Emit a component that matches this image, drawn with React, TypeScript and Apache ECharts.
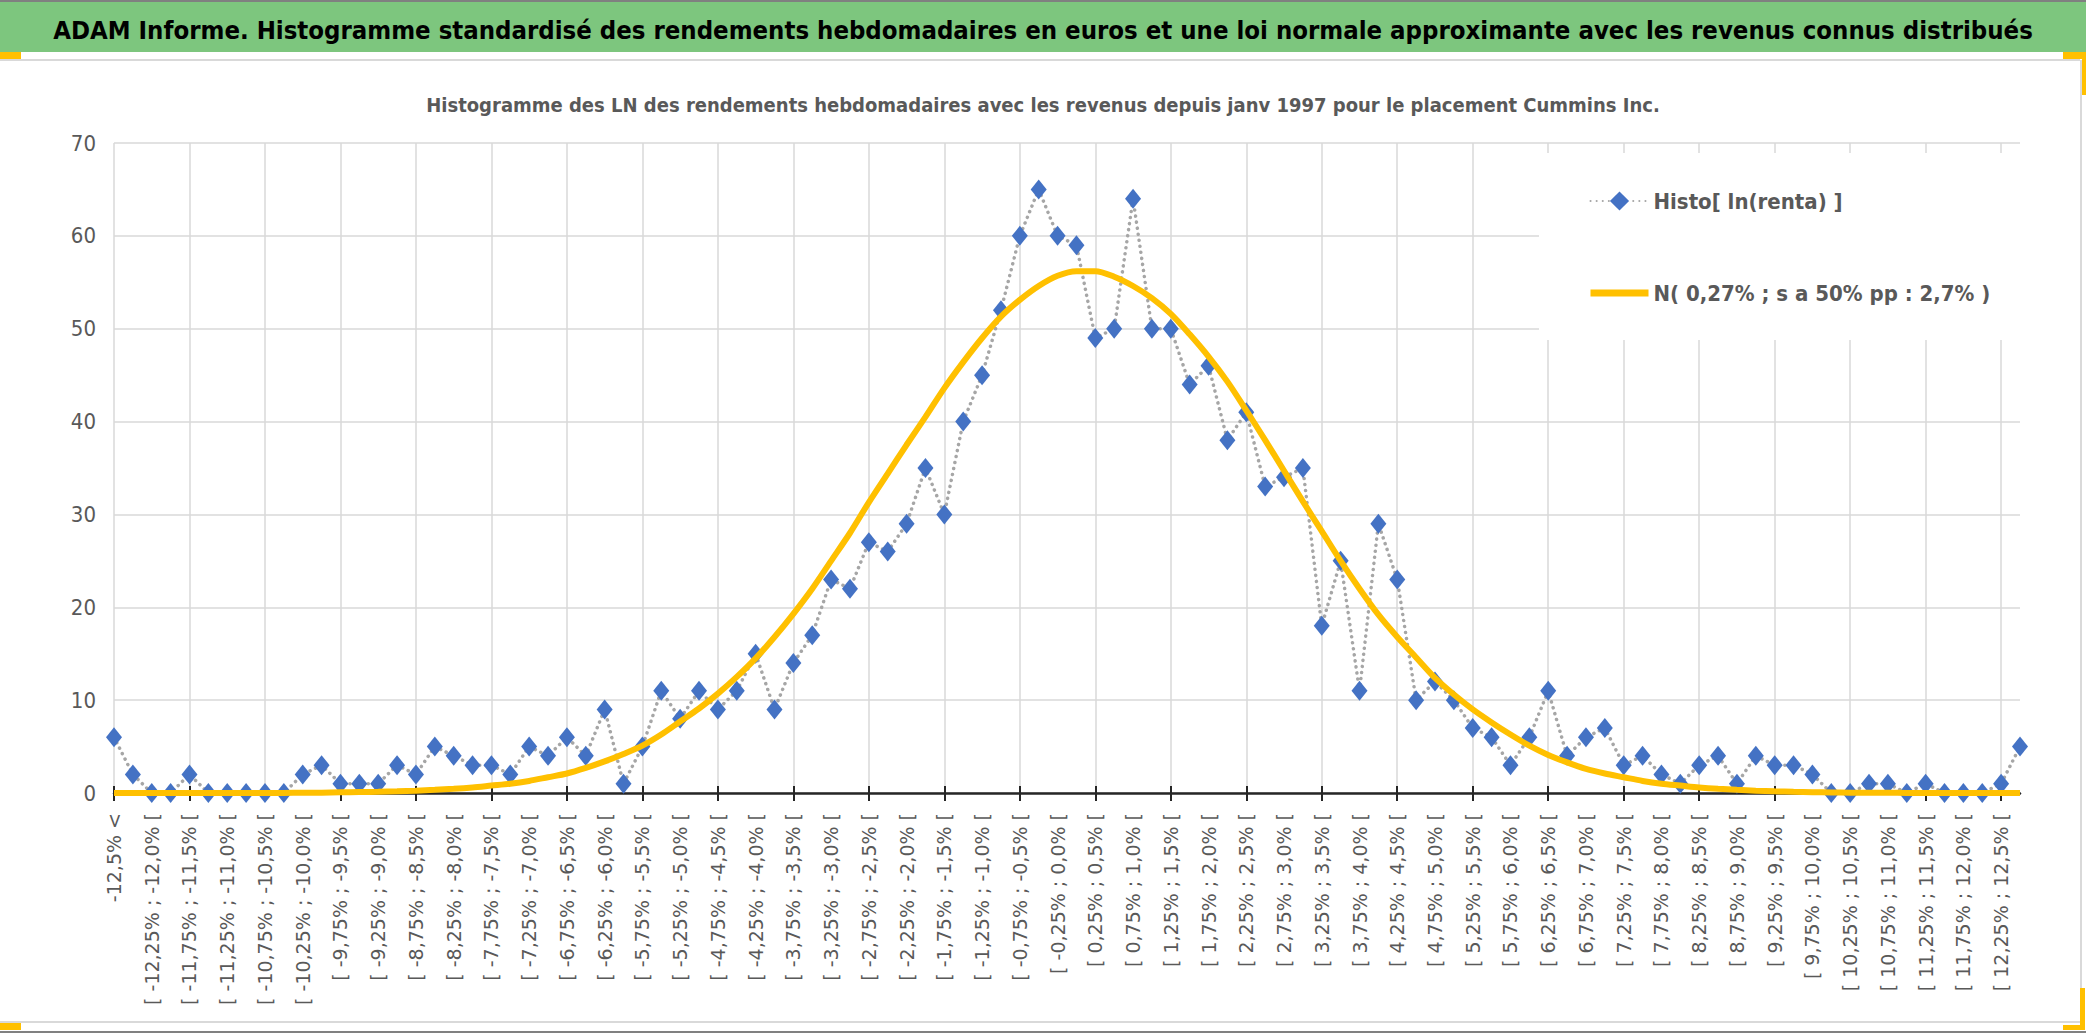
import React, { useRef, useEffect } from 'react';
import * as echarts from 'echarts';

const HEADER = 'ADAM Informe. Histogramme standardisé des rendements hebdomadaires en euros et une loi normale approximante avec les revenus connus distribués';
const SUBTITLE = 'Histogramme des LN des rendements hebdomadaires avec les revenus depuis janv 1997 pour le placement Cummins Inc.';

const HISTO_NAME = 'Histo[ ln(renta) ]';
const NORMAL_NAME = 'N( 0,27% ; s a 50% pp : 2,7% )';

// class bounds (in %), step 0.25
const BOUNDS = [
  '-12,5', '-12,25', '-12,0', '-11,75', '-11,5', '-11,25', '-11,0', '-10,75', '-10,5', '-10,25',
  '-10,0', '-9,75', '-9,5', '-9,25', '-9,0', '-8,75', '-8,5', '-8,25', '-8,0', '-7,75',
  '-7,5', '-7,25', '-7,0', '-6,75', '-6,5', '-6,25', '-6,0', '-5,75', '-5,5', '-5,25',
  '-5,0', '-4,75', '-4,5', '-4,25', '-4,0', '-3,75', '-3,5', '-3,25', '-3,0', '-2,75',
  '-2,5', '-2,25', '-2,0', '-1,75', '-1,5', '-1,25', '-1,0', '-0,75', '-0,5', '-0,25',
  '0,0', '0,25', '0,5', '0,75', '1,0', '1,25', '1,5', '1,75', '2,0', '2,25',
  '2,5', '2,75', '3,0', '3,25', '3,5', '3,75', '4,0', '4,25', '4,5', '4,75',
  '5,0', '5,25', '5,5', '5,75', '6,0', '6,25', '6,5', '6,75', '7,0', '7,25',
  '7,5', '7,75', '8,0', '8,25', '8,5', '8,75', '9,0', '9,25', '9,5', '9,75',
  '10,0', '10,25', '10,5', '10,75', '11,0', '11,25', '11,5', '11,75', '12,0', '12,25',
  '12,5',
];
const FIRST_CLASS = '-12,5% <';
const LAST_CLASS = '12,5% <=';

// weekly counts per class
const HISTO = [
  6, 2, 0, 0, 2, 0, 0, 0, 0, 0,
  2, 3, 1, 1, 1, 3, 2, 5, 4, 3,
  3, 2, 5, 4, 6, 4, 9, 1, 5, 11,
  8, 11, 9, 11, 15, 9, 14, 17, 23, 22,
  27, 26, 29, 35, 30, 40, 45, 52, 60, 65,
  60, 59, 49, 50, 64, 50, 50, 44, 46, 38,
  41, 33, 34, 35, 18, 25, 11, 29, 23, 10,
  12, 10, 7, 6, 3, 6, 11, 4, 6, 7,
  3, 4, 2, 1, 3, 4, 1, 4, 3, 3,
  2, 0, 0, 1, 1, 0, 1, 0, 0, 0,
  1, 5,
];

// fitted normal curve
const NORMAL = [
  0, 0, 0, 0, 0, 0, 0, 0, 0, 0.01,
  0.02, 0.04, 0.07, 0.1, 0.13, 0.18, 0.25, 0.34, 0.45, 0.6,
  0.8, 1.0, 1.3, 1.7, 2.1, 2.7, 3.4, 4.2, 5.1, 6.3,
  7.7, 9.1, 10.7, 12.5, 14.5, 16.8, 19.3, 22.0, 25.0, 28.0,
  31.3, 34.4, 37.5, 40.5, 43.6, 46.4, 49.0, 51.3, 53.1, 54.6,
  55.7, 56.2, 56.2, 55.6, 54.6, 53.3, 51.6, 49.4, 47.0, 44.3,
  41.2, 38.0, 34.7, 31.4, 28.2, 25.0, 22.0, 19.2, 16.8, 14.6,
  12.4, 10.6, 9.0, 7.6, 6.3, 5.1, 4.1, 3.3, 2.6, 2.1,
  1.7, 1.3, 1.0, 0.8, 0.6, 0.45, 0.34, 0.25, 0.18, 0.13,
  0.09, 0.06, 0.04, 0.03, 0.02, 0.01, 0, 0, 0, 0,
  0, 0,
];

const Y_MAX = 70;
const Y_STEP = 10;

const NARROW = '"Liberation Sans Narrow", "DejaVu Sans Condensed", "DejaVu Sans", sans-serif';
const GREY_TEXT = '#595959';
const GRID_COLOR = '#d9d9d9';
const ORANGE = '#FFC000';
const BLUE = '#4472C4';

const CATEGORIES = [
  FIRST_CLASS,
  ...BOUNDS.slice(1).map((b, i) => `[ ${BOUNDS[i]}% ; ${b}% [`),
  LAST_CLASS,
];

const rect = (x: number, y: number, w: number, h: number, fill: string) => ({
  type: 'rect',
  shape: { x, y, width: w, height: h },
  style: { fill },
  silent: true,
  z: 10,
});

const App: React.FC = () => {
  const chartRef = useRef<HTMLDivElement>(null);

  useEffect(() => {
    if (!chartRef.current) return;
    const chart = echarts.init(chartRef.current, undefined, { renderer: 'svg' });

    const option: echarts.EChartsOption = {
      animation: false,
      backgroundColor: '#FFFFFF',
      title: [
        {
          text: HEADER,
          left: 'center',
          top: 16,
          padding: 0,
          textStyle: { fontFamily: NARROW, fontSize: 25.5, fontWeight: 'bold', color: '#000', lineHeight: 28 },
        },
        {
          text: SUBTITLE,
          left: 'center',
          top: 94,
          padding: 0,
          textStyle: { fontFamily: NARROW, fontSize: 20, fontWeight: 'bold', color: GREY_TEXT, lineHeight: 22 },
        },
      ],
      graphic: [
        rect(0, 0, 2086, 2, '#808080'),
        { ...rect(0, 2, 2086, 50, '#7DC67E'), z: -1 },
        rect(0, 59, 2080, 2, GRID_COLOR),
        rect(2080, 60, 2, 964, GRID_COLOR),
        rect(0, 1021, 2082, 2, GRID_COLOR),
        rect(0, 1031, 2086, 2, '#808080'),
        rect(0, 52, 21, 7, ORANGE),
        rect(2063, 52, 23, 7, ORANGE),
        rect(2082, 52, 4, 43, ORANGE),
        rect(2080, 988, 5, 42, ORANGE),
        rect(2063, 1025, 22, 5, ORANGE),
        rect(0, 1023, 21, 7, ORANGE),
      ],
      legend: {
        orient: 'vertical',
        left: 1539,
        top: 153,
        padding: [33, 45, 32, 48],
        backgroundColor: '#FFFFFF',
        itemWidth: 58,
        itemHeight: 24,
        itemGap: 62,
        textStyle: { fontFamily: NARROW, fontSize: 22, fontWeight: 'bold', color: GREY_TEXT, lineHeight: 30 },
        data: [
          { name: HISTO_NAME },
          { name: NORMAL_NAME, itemStyle: { opacity: 0 }, lineStyle: { color: ORANGE, width: 7 } },
        ],
      },
      grid: { left: 114, right: 66, top: 143, bottom: 240 },
      xAxis: [
        {
          type: 'category',
          data: CATEGORIES,
          boundaryGap: false,
          axisLine: { lineStyle: { color: '#262626', width: 2.5 } },
          axisTick: { interval: 3, length: 8, lineStyle: { color: '#262626', width: 2 } },
          axisLabel: {
            interval: 1,
            rotate: 90,
            margin: 20,
            fontSize: 19,
            fontFamily: '"DejaVu Sans", sans-serif',
            color: GREY_TEXT,
          },
          splitLine: { show: true, interval: 3, lineStyle: { color: GRID_COLOR, width: 1.5 } },
        },
        {
          type: 'category',
          data: CATEGORIES,
          boundaryGap: false,
          position: 'bottom',
          axisLine: { show: false },
          axisTick: { inside: true, interval: 3, length: 7, lineStyle: { color: '#262626', width: 2 } },
          axisLabel: { show: false },
          splitLine: { show: false },
        },
      ],
      yAxis: {
        type: 'value',
        min: 0,
        max: Y_MAX,
        interval: Y_STEP,
        axisLine: { show: false },
        axisTick: { show: false },
        axisLabel: { fontFamily: NARROW, fontSize: 22, color: GREY_TEXT, margin: 18 },
        splitLine: { lineStyle: { color: GRID_COLOR, width: 1.5 } },
      },
      series: [
        {
          name: HISTO_NAME,
          type: 'line',
          data: HISTO,
          symbol: 'diamond',
          symbolSize: [16, 20],
          showAllSymbol: true,
          itemStyle: { color: BLUE },
          lineStyle: { color: '#A6A6A6', width: 3.5, type: [0.1, 6], cap: 'round' },
          z: 3,
        },
        {
          name: NORMAL_NAME,
          type: 'line',
          data: NORMAL,
          smooth: 0.3,
          symbol: 'none',
          itemStyle: { color: ORANGE },
          lineStyle: { color: ORANGE, width: 6 },
          z: 4,
        },
      ],
    };

    chart.setOption(option);

    return () => {
      chart.dispose();
    };
  }, []);

  return (
    <div
      ref={chartRef}
      style={{ position: 'fixed', left: 0, top: 0, width: 2086, height: 1033 }}
    />
  );
};

export default App;
